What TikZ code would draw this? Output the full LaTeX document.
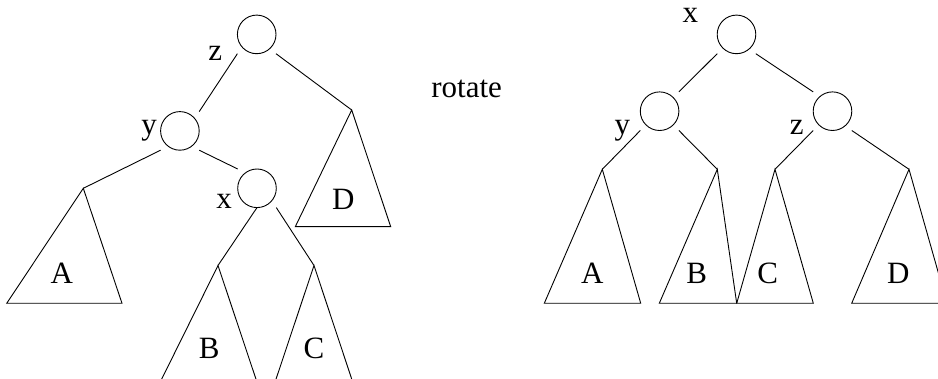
\documentclass[tikz,border=0pt]{standalone}
\usepackage{fontspec}
\setmainfont{Liberation Serif}
\begin{document}
\begin{tikzpicture}[x=1pt,y=-1pt,line width=0.9pt,
  vtx/.style={circle,draw,minimum size=38.6pt,inner sep=0pt,outer sep=0pt},
  lbl/.style={anchor=base,inner sep=0pt,outer sep=0pt,font=\fontsize{31}{37}\selectfont},
  tri/.style={draw,line join=miter}]
\useasboundingbox (0,0) rectangle (938,379);
\clip (0,0) rectangle (938,379);
% ---------- left tree ----------
\node[vtx] (lz) at (256.7,34.4) {};
\node[vtx] (ly) at (179.9,130.9) {};
\node[vtx] (lx) at (257,188.3) {};
\coordinate (lAt) at (83.3,188.3);
\coordinate (lDt) at (351.7,110);
\coordinate (lBt) at (218,265.5);
\coordinate (lCt) at (314,265.5);
\draw[tri] (lAt) -- (6.7,303.3) -- (122,303.3) -- cycle;
\draw[tri] (lDt) -- (295.3,226.7) -- (390.7,226.7) -- cycle;
\draw[tri] (lBt) -- (153.8,395) -- (261.3,395) -- cycle;
\draw[tri] (lCt) -- (270.7,395) -- (357,395) -- cycle;
\draw (lz.south -| lz.west) -- (ly.north -| ly.east);
\draw (lz.south -| lz.east) -- (lDt);
\draw (ly.south -| ly.west) -- (lAt);
\draw (ly.south -| ly.east) -- (lx.north -| lx.west);
\draw (lx.south) -- (lBt);
\draw (lx.south -| lx.east) -- (lCt);
\node[lbl] (lzl) at (215.3,60.7) {z};
\node[lbl] (lyl) at (149,135) {y};
\node[lbl] (lxl) at (224,208.3) {x};
\node[lbl] (lAl) at (61.7,283.3) {A};
\node[lbl] (lDl) at (343.3,210) {D};
\node[lbl] (lBl) at (209.3,358.3) {B};
\node[lbl] (lCl) at (314,358.3) {C};
% ---------- middle text ----------
\node[lbl] (rot) at (466.7,97.3) {rotate};
% ---------- right tree ----------
\node[vtx] (rx) at (736.5,34.4) {};
\node[vtx] (ry) at (659.6,111.2) {};
\node[vtx] (rz) at (832.5,111.2) {};
\coordinate (rAt) at (602.3,169.3);
\coordinate (rBt) at (717.3,169.3);
\coordinate (rCt) at (775,169.3);
\coordinate (rDt) at (909,169.3);
\draw[tri] (rAt) -- (544.3,303.3) -- (640.7,303.3) -- cycle;
\draw[tri] (rBt) -- (659.3,303.3) -- (736.7,303.3) -- cycle;
\draw[tri] (rCt) -- (736.7,303.3) -- (813.3,303.3) -- cycle;
\draw[tri] (rDt) -- (851.7,303.3) -- (947,303.3) -- cycle;
\draw (rx.south -| rx.west) -- (ry.north -| ry.east);
\draw (rx.south -| rx.east) -- (rz.north -| rz.west);
\draw (ry.south -| ry.west) -- (rAt);
\draw (ry.south -| ry.east) -- (rBt);
\draw (rz.south -| rz.west) -- (rCt);
\draw (rz.south -| rz.east) -- (rDt);
\node[lbl] (rxl) at (690.3,22.7) {x};
\node[lbl] (ryl) at (622.3,135) {y};
\node[lbl] (rzl) at (796.7,135) {z};
\node[lbl] (rAl) at (592.3,283.3) {A};
\node[lbl] (rBl) at (696.7,283.3) {B};
\node[lbl] (rCl) at (767.8,283.3) {C};
\node[lbl] (rDl) at (898.3,283.3) {D};
\end{tikzpicture}
\end{document}
